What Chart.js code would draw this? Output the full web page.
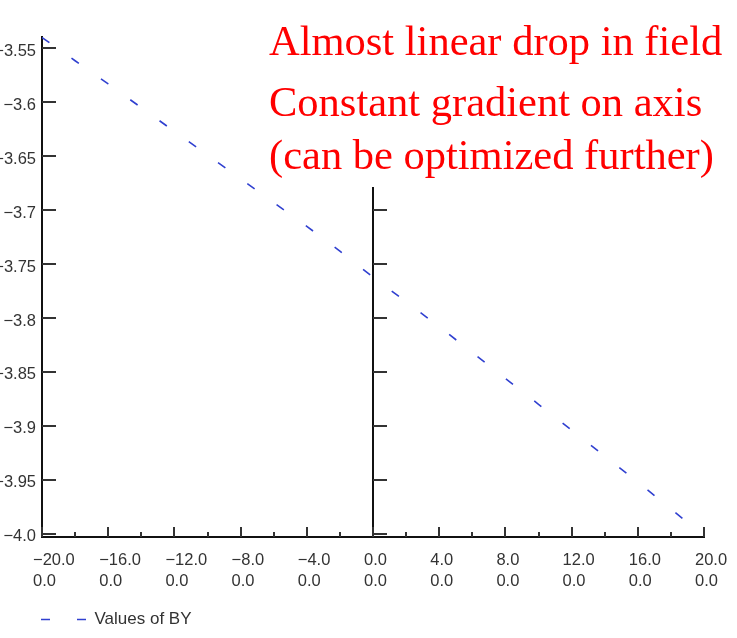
<!DOCTYPE html>
<html>
<head>
<meta charset="utf-8">
<title>Values of BY</title>
<script src="https://cdn.jsdelivr.net/npm/chart.js@4.4.1/dist/chart.umd.min.js"></script>
<style>
  html, body { margin: 0; padding: 0; background: #fff; }
  canvas { display: block; }
</style>
</head>
<body>
<canvas id="byChart" width="737" height="638"></canvas>
<script>
// position along the axis and the BY values
const xValues = [-20, -18, -16, -14, -12, -10, -8, -6, -4, -2, 0, 2, 4, 6, 8, 10, 12, 14, 16, 18, 20];
const byValues = [-3.540, -3.5615, -3.583, -3.605, -3.627, -3.649, -3.671, -3.693, -3.715, -3.738, -3.762,
                  -3.785, -3.808, -3.832, -3.856, -3.880, -3.904, -3.928, -3.952, -3.977, -4.002];

const xMajorTicks = [-20, -16, -12, -8, -4, 0, 4, 8, 12, 16, 20];
const xMajorLabels = ['\u221220.0', '\u221216.0', '\u221212.0', '\u22128.0', '\u22124.0', '0.0', '4.0', '8.0', '12.0', '16.0', '20.0'];
const xMinorTicks = [-18, -14, -10, -6, -2, 2, 6, 10, 14, 18];
const xSubLabel = '0.0';

const yTickValues = [-4.0, -3.95, -3.9, -3.85, -3.8, -3.75, -3.7, -3.65, -3.6, -3.55];
const yTickLabels = ['\u22124.0', '\u22123.95', '\u22123.9', '\u22123.85', '\u22123.8', '\u22123.75', '\u22123.7', '\u22123.65', '\u22123.6', '\u22123.55'];

const notes = ['Almost linear drop in field', 'Constant gradient on axis', '(can be optimized further)'];

const LINE_COLOR = '#3040d0';
const LINE_DASH = [9, 27];
const LABEL_FONT = { family: '"Liberation Sans", Arial, sans-serif', size: 16.5, lineHeight: 1.33 };

// inward tick marks, the axis at x = 0 and the red notes on top
const axisDecor = {
    id: 'axisDecor',
    afterDraw(chart) {
        const { ctx, chartArea: a, scales: { x, y } } = chart;
        const x0 = Math.round(x.getPixelForValue(0));
        ctx.save();
        ctx.lineWidth = 2;
        ctx.strokeStyle = '#111';
        ctx.beginPath();
        ctx.moveTo(x0, a.top);
        ctx.lineTo(x0, a.bottom);
        ctx.stroke();

        ctx.strokeStyle = '#333';
        ctx.beginPath();
        yTickValues.forEach(v => {
            const py = Math.round(y.getPixelForValue(v));
            ctx.moveTo(a.left, py); ctx.lineTo(a.left + 14, py);
            ctx.moveTo(x0, py); ctx.lineTo(x0 + 14, py);
        });
        xMajorTicks.forEach(v => {
            const px = Math.round(x.getPixelForValue(v));
            ctx.moveTo(px, a.bottom); ctx.lineTo(px, a.bottom - 10);
        });
        xMinorTicks.forEach(v => {
            const px = Math.round(x.getPixelForValue(v));
            ctx.moveTo(px, a.bottom); ctx.lineTo(px, a.bottom - 5);
        });
        ctx.stroke();

        // the notes sit on a white patch that hides the top of the centre axis
        ctx.fillStyle = '#fff';
        ctx.fillRect(262, 0, chart.width - 262, 187);
        ctx.fillStyle = '#ff0000';
        ctx.font = '42.5px "Liberation Serif", "Times New Roman", serif';
        ctx.textBaseline = 'alphabetic';
        const baselines = [55, 116, 169];
        notes.forEach((t, i) => ctx.fillText(t, 269, baselines[i]));
        ctx.restore();
    }
};

const ctx = document.getElementById('byChart').getContext('2d');
new Chart(ctx, {
    type: 'line',
    data: {
        datasets: [{
            label: 'Values of BY',
            data: xValues.map((v, i) => ({ x: v, y: byValues[i] })),
            borderColor: LINE_COLOR,
            backgroundColor: LINE_COLOR,
            borderWidth: 1.6,
            borderDash: LINE_DASH,
            pointRadius: 0,
            tension: 0,
            fill: false
        }]
    },
    options: {
        responsive: false,
        animation: false,
        layout: { padding: { top: 37, right: 33, left: 0, bottom: 0 } },
        scales: {
            x: {
                type: 'linear',
                min: -20,
                max: 20,
                grid: { display: false, drawTicks: false },
                border: { display: true, color: '#111', width: 2 },
                afterBuildTicks: s => { s.ticks = xMinorTicks.concat(xMajorTicks).sort((p, q) => p - q).map(v => ({ value: v })); },
                afterFit: s => { s.height = 55; s.paddingLeft = 0; s.paddingRight = 0; },
                ticks: {
                    autoSkip: false,
                    maxRotation: 0,
                    align: 'start',
                    labelOffset: -9,
                    padding: 12,
                    color: '#333',
                    font: LABEL_FONT,
                    callback: v => {
                        const k = xMajorTicks.indexOf(v);
                        return k < 0 ? '' : [xMajorLabels[k], xSubLabel];
                    }
                }
            },
            y: {
                type: 'linear',
                min: -4.003,
                max: -3.5395,
                grid: { display: false, drawTicks: false },
                border: { display: true, color: '#111', width: 2 },
                afterBuildTicks: s => { s.ticks = yTickValues.map(v => ({ value: v })); },
                afterFit: s => { s.width = 42; s.paddingTop = 0; s.paddingBottom = 0; },
                ticks: {
                    autoSkip: false,
                    padding: 6,
                    labelOffset: 3,
                    color: '#333',
                    font: LABEL_FONT,
                    callback: v => {
                        const k = yTickValues.findIndex(t => Math.abs(t - v) < 1e-9);
                        return k < 0 ? '' : yTickLabels[k];
                    }
                }
            }
        },
        plugins: {
            legend: {
                position: 'bottom',
                align: 'start',
                labels: {
                    usePointStyle: true,
                    pointStyle: 'line',
                    pointStyleWidth: 67,
                    padding: 19,
                    color: '#333',
                    font: { family: '"Liberation Sans", Arial, sans-serif', size: 17 },
                    // dashed key with a leading gap, like the original
                    generateLabels: chart => Chart.defaults.plugins.legend.labels.generateLabels(chart)
                        .map(item => Object.assign(item, {
                            strokeStyle: LINE_COLOR,
                            lineWidth: 1.6,
                            lineDash: LINE_DASH,
                            lineDashOffset: 14
                        }))
                }
            },
            tooltip: { enabled: false }
        }
    },
    plugins: [axisDecor]
});
</script>
</body>
</html>
